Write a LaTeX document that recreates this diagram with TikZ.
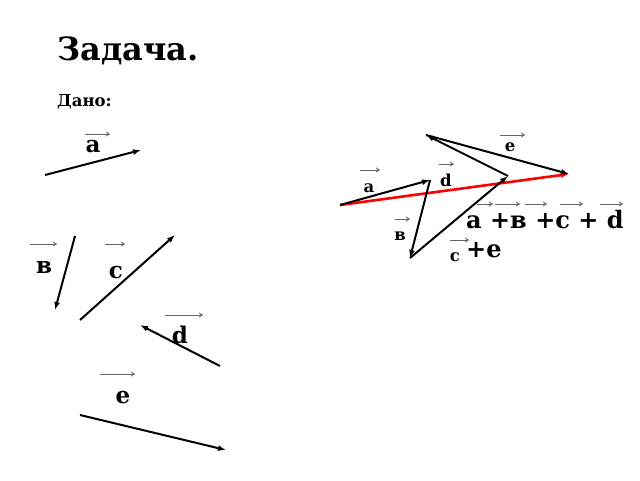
\documentclass[tikz,border=0pt]{standalone}
\usepackage{fontspec}
\setmainfont{DejaVu Serif}
\usetikzlibrary{arrows.meta}
\begin{document}
\begin{tikzpicture}[x=1pt,y=-1pt,
  vec/.style={line width=2pt,-{Latex[length=8pt,width=6pt]}},
  redvec/.style={line width=2.6pt,red,-{Latex[length=8pt,width=6pt]}},
  ovr/.style={line width=0.9pt,black!60,-{To[length=4pt,width=5pt]}},
  lbl/.style={inner sep=0pt,anchor=base,font=\bfseries\fontsize{23}{25}\selectfont},
  slbl/.style={inner sep=0pt,anchor=base,font=\bfseries\fontsize{16.5}{18}\selectfont},
  sumtxt/.style={inner sep=0pt,anchor=base west,font=\bfseries\fontsize{24}{26}\selectfont}]
\useasboundingbox (0,0) rectangle (640,480);
% title
\node[inner sep=0pt,anchor=base west,font=\bfseries\fontsize{32}{35}\selectfont] (title) at (57,60) {Задача.};
\node[inner sep=0pt,anchor=base west,font=\bfseries\fontsize{16.5}{18}\selectfont] (dano) at (57,106) {Дано:};
% left vectors
\coordinate (a1) at (45,175); \coordinate (a2) at (141,150);
\coordinate (b1) at (75,236); \coordinate (b2) at (55,310);
\coordinate (c1) at (80,320); \coordinate (c2) at (175,235);
\coordinate (d1) at (220,366); \coordinate (d2) at (140,325);
\coordinate (e1) at (80,415); \coordinate (e2) at (226,450);
\draw[vec] (a1) -- (a2);
\draw[vec] (b1) -- (b2);
\draw[vec] (c1) -- (c2);
\draw[vec] (d1) -- (d2);
\draw[vec] (e1) -- (e2);
\node[lbl] (la) at (93,152) {a};
\node[lbl] (lb) at (44,273) {в};
\node[lbl] (lc) at (116,278) {c};
\node[lbl] (ld) at (180,343) {d};
\node[lbl] (le) at (123,403) {e};
\coordinate (oa1) at (85,134); \coordinate (oa2) at (110,134);
\coordinate (ob1) at (30,244); \coordinate (ob2) at (57,244);
\coordinate (oc1) at (105,244); \coordinate (oc2) at (125,244);
\coordinate (od1) at (165,315); \coordinate (od2) at (203,315);
\coordinate (oe1) at (100,374); \coordinate (oe2) at (135,374);
\draw[ovr] (oa1) -- (oa2);
\draw[ovr] (ob1) -- (ob2);
\draw[ovr] (oc1) -- (oc2);
\draw[ovr] (od1) -- (od2);
\draw[ovr] (oe1) -- (oe2);
% right construction
\coordinate (P0) at (340,205);
\coordinate (P1) at (430,180);
\coordinate (P2) at (410,258);
\coordinate (P3) at (508,176);
\coordinate (P4) at (426,135);
\coordinate (P5) at (569,174);
\draw[redvec] (P0) -- (P5);
\draw[vec] (P0) -- (P1);
\draw[vec] (P1) -- (P2);
\draw[vec] (P2) -- (P3);
\draw[vec] (P3) -- (P4);
\draw[vec] (P4) -- (P5);
\node[slbl] (ra) at (369,192) {a};
\node[slbl] (rb) at (400,240) {в};
\node[slbl] (rc) at (455,261) {c};
\node[slbl] (rd) at (446,186) {d};
\node[slbl] (re) at (510,151) {e};
\coordinate (ora1) at (360,170); \coordinate (ora2) at (380,170);
\coordinate (orb1) at (395,219); \coordinate (orb2) at (410,219);
\coordinate (orc1) at (450,240); \coordinate (orc2) at (469,240);
\coordinate (ord1) at (439,164); \coordinate (ord2) at (454,164);
\coordinate (ore1) at (500,135); \coordinate (ore2) at (525,135);
\draw[ovr] (ora1) -- (ora2);
\draw[ovr] (orb1) -- (orb2);
\draw[ovr] (orc1) -- (orc2);
\draw[ovr] (ord1) -- (ord2);
\draw[ovr] (ore1) -- (ore2);
% sum text
\node[sumtxt] (sum) at (466,228) {a +в +c + d};
\node[sumtxt] (sume) at (466,257) {+e};
\coordinate (s11) at (477,204); \coordinate (s12) at (493,204);
\coordinate (s21) at (495,204); \coordinate (s22) at (520,204);
\coordinate (s31) at (525,204); \coordinate (s32) at (547,204);
\coordinate (s41) at (560,204); \coordinate (s42) at (583,204);
\coordinate (s51) at (600,204); \coordinate (s52) at (623,204);
\draw[ovr] (s11) -- (s12);
\draw[ovr] (s21) -- (s22);
\draw[ovr] (s31) -- (s32);
\draw[ovr] (s41) -- (s42);
\draw[ovr] (s51) -- (s52);
\end{tikzpicture}
\end{document}
